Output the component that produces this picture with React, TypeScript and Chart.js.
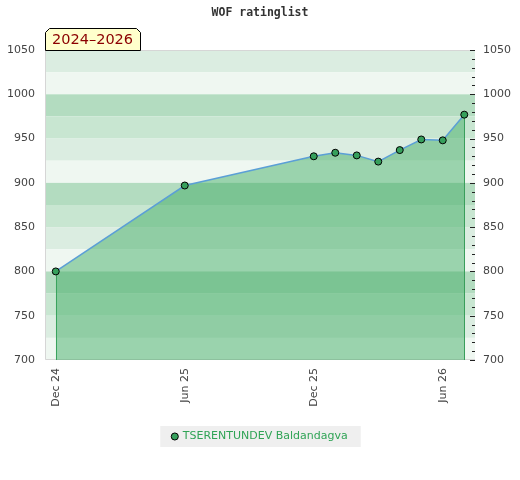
import React, { useEffect, useRef } from "react";
import { Chart, registerables } from "chart.js";

Chart.register(...registerables);

// ---- data ----
const chartTitle = "WOF ratinglist";
const periodLabel = "2024–2026";
const playerName = "TSERENTUNDEV Baldandagva";
const ratingMonths = ["2024-12", "2025-06", "2025-12", "2026-01", "2026-02", "2026-03", "2026-04", "2026-05", "2026-06", "2026-07"];
const ratings = [800, 897, 930, 934, 931, 924, 937, 949, 948, 977];
const xTickMonths = ["2024-12", "2025-06", "2025-12", "2026-06"];
const xTickLabels = ["Dec 24", "Jun 25", "Dec 25", "Jun 26"];
const yMin = 700;
const yMax = 1050;

const baseMonth = ratingMonths[0];
const monthOffset = (m: string) => {
  const [y, mo] = m.split("-").map(Number);
  const [by, bm] = baseMonth.split("-").map(Number);
  return (y - by) * 12 + (mo - bm);
};
const xTickValues = xTickMonths.map(monthOffset);
const points = ratingMonths.map((m, i) => ({ x: monthOffset(m), y: ratings[i] }));

// ---- styles ----
const FONT = "'DejaVu Sans', sans-serif";
const bandColors = ["#b3dcc0", "#c8e6d1", "#dbede1", "#eff7f1"];
const pointColor = "#36a05c";
const legendColor = "#30a456";

const bandsPlugin = {
  id: "bands",
  beforeDraw(chart: any) {
    const { ctx, chartArea: a, scales } = chart;
    const y = scales.y;
    ctx.save();
    for (let v = y.max; v > y.min; v -= 25) {
      const top = y.getPixelForValue(v);
      const bottom = y.getPixelForValue(v - 25);
      const idx = ((100 - (v % 100)) % 100) / 25;
      ctx.fillStyle = bandColors[idx];
      ctx.fillRect(a.left, top, a.right - a.left, bottom - top);
    }
    ctx.strokeStyle = "#d6d6d6";
    ctx.lineWidth = 1;
    ctx.beginPath();
    ctx.moveTo(a.right, a.top + 0.5);
    ctx.lineTo(a.left + 0.5, a.top + 0.5);
    ctx.lineTo(a.left + 0.5, a.bottom - 0.5);
    ctx.lineTo(a.right, a.bottom - 0.5);
    ctx.stroke();

    // legend background
    const lg = chart.legend;
    if (lg && lg.legendHitBoxes && lg.legendHitBoxes.length) {
      const hb = lg.legendHitBoxes[0];
      ctx.fillStyle = "#efefef";
      ctx.fillRect(hb.left - 12, hb.top - 5, hb.width + 25, hb.height + 10);
    }
    ctx.restore();
  },
  beforeDatasetsDraw(chart: any) {
    const { ctx, chartArea: a } = chart;
    const meta = chart.getDatasetMeta(0);
    const pts = [meta.data[0], meta.data[meta.data.length - 1]];
    ctx.save();
    ctx.strokeStyle = "#3a9e5c";
    ctx.lineWidth = 1;
    pts.forEach((p: any) => {
      const x = Math.round(p.x) + 0.5;
      ctx.beginPath();
      ctx.moveTo(x, p.y);
      ctx.lineTo(x, a.bottom);
      ctx.stroke();
    });
    ctx.restore();
  },
  afterDraw(chart: any) {
    const { ctx, chartArea: a, scales } = chart;
    ctx.save();
    // right axis tick marks (inside)
    const y2 = scales.y2;
    ctx.strokeStyle = "#222";
    ctx.lineWidth = 1;
    y2.ticks.forEach((t: any) => {
      const py = Math.round(y2.getPixelForValue(t.value)) + 0.5;
      const len = t.value % 50 === 0 ? 5 : 3;
      ctx.beginPath();
      ctx.moveTo(a.right - len, py);
      ctx.lineTo(a.right, py);
      ctx.stroke();
    });

    // title
    ctx.font = "bold 11.5px 'DejaVu Sans Mono', monospace";
    ctx.fillStyle = "#333";
    ctx.textAlign = "center";
    ctx.textBaseline = "middle";
    ctx.fillText(chartTitle, chart.width / 2, 13);

    // period box
    ctx.font = `14.5px ${FONT}`;
    const tw = ctx.measureText(periodLabel).width;
    const x0 = a.left + 0.5;
    const x1 = Math.round(a.left + tw + 14) + 0.5;
    const yb = a.top + 0.5;
    const yt = a.top - 22 + 0.5;
    const c = 4;
    ctx.beginPath();
    ctx.moveTo(x0, yb);
    ctx.lineTo(x0, yt + c);
    ctx.lineTo(x0 + c, yt);
    ctx.lineTo(x1 - c, yt);
    ctx.lineTo(x1, yt + c);
    ctx.lineTo(x1, yb);
    ctx.closePath();
    ctx.fillStyle = "#ffffcc";
    ctx.fill();
    ctx.strokeStyle = "#000";
    ctx.stroke();
    ctx.fillStyle = "#8b0000";
    ctx.textAlign = "left";
    ctx.fillText(periodLabel, x0 + 6.5, (yt + yb) / 2 + 1);
    ctx.restore();
  },
};

export default function App() {
  const ref = useRef<HTMLCanvasElement | null>(null);

  useEffect(() => {
    document.body.style.margin = "0";
    const canvas = ref.current;
    if (!canvas) return;
    const tickFont = { family: FONT, size: 11 };
    const chart = new Chart(canvas, {
      type: "line",
      data: {
        datasets: [
          {
            label: playerName,
            data: points,
            borderColor: "#5b9fd6",
            borderWidth: 1.5,
            backgroundColor: "rgba(60,170,96,0.47)",
            fill: "start",
            tension: 0,
            pointRadius: 3.5,
            pointBackgroundColor: pointColor,
            pointBorderColor: "#000",
            pointBorderWidth: 1,
          },
        ],
      },
      options: {
        responsive: false,
        animation: false,
        layout: { padding: { top: 50, bottom: 28, left: 0, right: 0 } },
        scales: {
          x: {
            type: "linear",
            min: -0.5,
            max: 19.5,
            afterBuildTicks: (s: any) => {
              s.ticks = xTickValues.map((v) => ({ value: v }));
            },
            afterFit: (s: any) => {
              s.height = 61;
            },
            ticks: {
              autoSkip: false,
              minRotation: 90,
              maxRotation: 90,
              padding: 8,
              font: tickFont,
              color: "#444",
              callback: (v: any) => {
                const i = xTickValues.indexOf(Number(v));
                return i >= 0 ? xTickLabels[i] : "";
              },
            },
            grid: { display: false, drawTicks: false },
            border: { display: false },
          },
          y: {
            position: "left",
            min: yMin,
            max: yMax,
            afterFit: (s: any) => {
              s.width = 45;
            },
            ticks: {
              stepSize: 50,
              padding: 10,
              font: tickFont,
              color: "#444",
              callback: (v: any) => String(v),
            },
            grid: { display: false, drawTicks: false },
            border: { display: false },
          },
          y2: {
            position: "right",
            min: yMin,
            max: yMax,
            afterFit: (s: any) => {
              s.width = 45;
            },
            ticks: {
              stepSize: 10,
              autoSkip: false,
              padding: 8,
              font: tickFont,
              color: "#444",
              callback: (v: any) => (Number(v) % 50 === 0 ? String(v) : ""),
            },
            grid: { display: false, drawTicks: false },
            border: { display: false },
          },
        },
        plugins: {
          title: { display: false },
          tooltip: { enabled: false },
          legend: {
            display: true,
            position: "bottom",
            labels: {
              usePointStyle: true,
              boxWidth: 5,
              boxHeight: 5,
              padding: 10,
              color: legendColor,
              font: { family: FONT, size: 11 },
              generateLabels: () => [
                {
                  text: playerName,
                  fillStyle: pointColor,
                  strokeStyle: "#000",
                  lineWidth: 1,
                  pointStyle: "circle",
                  fontColor: legendColor,
                  hidden: false,
                  datasetIndex: 0,
                },
              ],
            },
          },
        },
      },
      plugins: [bandsPlugin],
    } as any);
    return () => chart.destroy();
  }, []);

  return (
    <div style={{ position: "absolute", left: 0, top: 0, width: 520, height: 480 }}>
      <canvas ref={ref} width={520} height={480} style={{ width: 520, height: 480 }} />
    </div>
  );
}
